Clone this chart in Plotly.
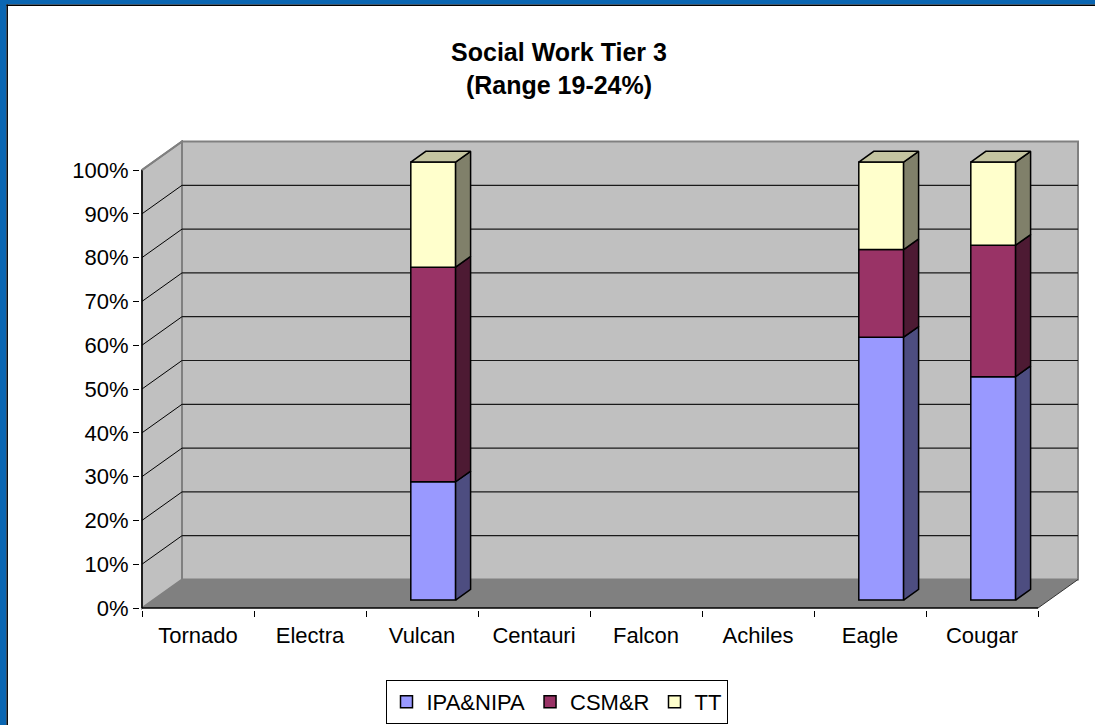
import plotly.graph_objects as go

# ---------------- data ----------------
categories = ["Tornado", "Electra", "Vulcan", "Centauri", "Falcon", "Achiles", "Eagle", "Cougar"]
ipa_nipa = [None, None, 27, None, None, None, 60, 51]
csm_r = [None, None, 49, None, None, None, 20, 30]
tt = [None, None, 24, None, None, None, 20, 19]
series_names = ["IPA&NIPA", "CSM&R", "TT"]
y_tick_values = [0, 10, 20, 30, 40, 50, 60, 70, 80, 90, 100]
y_tick_labels = [f"{v}%" for v in y_tick_values]
title_lines = ["Social Work Tier 3", "(Range 19-24%)"]

# ---------------- style ----------------
front_colors = ["#9999FF", "#993366", "#FFFFCC"]
side_colors = ["#4D4D80", "#4D1A33", "#80806A"]
top_colors = ["#C8C8FF", "#C0809F", "#C4C4A0"]
FONT = "Liberation Sans, Arial, sans-serif"

# depth projection (data units per full depth)
DX = 40 / 112
DY = 28.5 / 438
F1, F2 = 0.28, 0.655      # bar front / back depth fraction
BW = 0.4                  # bar width (category units)
bdx, bdy = DX * (F2 - F1), DY * (F2 - F1)

n = len(categories)
xr = [-0.5 - 2 / 112, -0.5 + 938 / 112]
yr = [-2 / 438, 468 / 438]

fig = go.Figure()

# ---- walls / floor / gridlines as shapes ----
shapes = []


def path(pts):
    return "M " + " L ".join(f"{x},{y}" for x, y in pts) + " Z"


xl, xrt = -0.5, n - 0.5
# back wall
shapes.append(dict(type="path", xref="x", yref="y", layer="below",
                   path=path([(xl + DX, DY), (xrt + DX, DY), (xrt + DX, 1 + DY), (xl + DX, 1 + DY)]),
                   fillcolor="#C0C0C0", line=dict(color="#808080", width=2)))
# left wall
shapes.append(dict(type="path", xref="x", yref="y", layer="below",
                   path=path([(xl, 0), (xl + DX, DY), (xl + DX, 1 + DY), (xl, 1)]),
                   fillcolor="#C0C0C0", line=dict(color="#808080", width=2)))
# floor
shapes.append(dict(type="path", xref="x", yref="y", layer="below",
                   path=path([(xl, 0), (xrt, 0), (xrt + DX, DY), (xl + DX, DY)]),
                   fillcolor="#808080", line=dict(width=0)))
# gridlines
for v in y_tick_values[1:-1]:
    yv = v / 100
    shapes.append(dict(type="line", xref="x", yref="y", layer="below",
                       x0=xl + DX, x1=xrt + DX, y0=yv + DY, y1=yv + DY,
                       line=dict(color="#1a1a1a", width=1.2)))
    shapes.append(dict(type="line", xref="x", yref="y", layer="below",
                       x0=xl, x1=xl + DX, y0=yv, y1=yv + DY,
                       line=dict(color="#000000", width=1)))
# front axis edges
shapes.append(dict(type="line", xref="x", yref="y", layer="below",
                   x0=xl, x1=xl, y0=0, y1=1, line=dict(color="#000000", width=1.5)))
shapes.append(dict(type="line", xref="x", yref="y", layer="below",
                   x0=xl, x1=xrt, y0=0, y1=0, line=dict(color="#000000", width=1.5)))
shapes.append(dict(type="line", xref="x", yref="y", layer="below",
                   x0=xrt, x1=xrt + DX, y0=0, y1=DY, line=dict(color="#333333", width=1)))
shapes.append(dict(type="line", xref="x", yref="y", layer="below",
                   x0=xl, x1=xl + DX, y0=1, y1=1 + DY, line=dict(color="#808080", width=2)))

# ---- frame (blue border, top & left) ----
PL, PW, PT, PH = 140, 940, 140, 470


def px(xp):
    return (xp - PL) / PW


def py(yp):
    return (PT + PH - yp) / PH


shapes.append(dict(type="rect", xref="paper", yref="paper", x0=px(0), x1=px(6.5), y0=py(725), y1=py(0),
                   fillcolor="#0A66B2", line=dict(width=0), layer="above"))
shapes.append(dict(type="rect", xref="paper", yref="paper", x0=px(0), x1=px(1095), y0=py(4.5), y1=py(0),
                   fillcolor="#0A66B2", line=dict(width=0), layer="above"))
shapes.append(dict(type="line", xref="paper", yref="paper", x0=px(7.2), x1=px(7.2), y0=py(725), y1=py(4.5),
                   line=dict(color="#000000", width=1.5), layer="above"))
shapes.append(dict(type="line", xref="paper", yref="paper", x0=px(6.5), x1=px(1095), y0=py(5.2), y1=py(5.2),
                   line=dict(color="#000000", width=1.5), layer="above"))

# ---- bars ----
all_series = [ipa_nipa, csm_r, tt]
cum = [0.0] * n
side_x = [[] for _ in all_series]
side_y = [[] for _ in all_series]
top_x = [[] for _ in all_series]
top_y = [[] for _ in all_series]
top_series = {}
for i in range(n):
    for s, vals in enumerate(all_series):
        if vals[i] is not None:
            top_series[i] = s

for s, vals in enumerate(all_series):
    bx, by, bb = [], [], []
    for i in range(n):
        v = vals[i]
        if v is None:
            continue
        y0 = cum[i]
        y1 = cum[i] + v / 100
        cum[i] = y1
        xc = i + DX * F1
        bx.append(xc)
        by.append(v / 100)
        bb.append(y0 + DY * F1)
        xL, xR = xc - BW / 2, xc + BW / 2
        yb, yt = y0 + DY * F1, y1 + DY * F1
        side_x[s] += [xR, xR + bdx, xR + bdx, xR, xR, None]
        side_y[s] += [yb, yb + bdy, yt + bdy, yt, yb, None]
        if top_series.get(i) == s:
            top_x[s] += [xL, xL + bdx, xR + bdx, xR, xL, None]
            top_y[s] += [yt, yt + bdy, yt + bdy, yt, yt, None]
    fig.add_trace(go.Bar(x=bx, y=by, base=bb, width=BW, name=series_names[s],
                         marker=dict(color=front_colors[s], line=dict(color="#000000", width=1.5)),
                         hoverinfo="skip"))

for s in range(len(all_series)):
    if side_x[s]:
        fig.add_trace(go.Scatter(x=side_x[s], y=side_y[s], mode="lines", fill="toself",
                                 fillcolor=side_colors[s], line=dict(color="#000000", width=1.5),
                                 showlegend=False, hoverinfo="skip"))
    if top_x[s]:
        fig.add_trace(go.Scatter(x=top_x[s], y=top_y[s], mode="lines", fill="toself",
                                 fillcolor=top_colors[s], line=dict(color="#000000", width=1.5),
                                 showlegend=False, hoverinfo="skip"))

fig.update_layout(
    width=1095, height=725,
    margin=dict(l=PL, r=1095 - PL - PW, t=PT, b=725 - PT - PH, pad=0, autoexpand=False),
    paper_bgcolor="#FFFFFF", plot_bgcolor="rgba(0,0,0,0)",
    barmode="overlay",
    shapes=shapes,
    font=dict(family=FONT, color="#000000", size=22),
    title=dict(text="<b>" + "<br>".join(title_lines) + "</b>",
               x=559 / 1095, xref="container", xanchor="center",
               y=1 - 61 / 725, yref="container", yanchor="top",
               font=dict(family=FONT, size=25, color="#000000")),
    legend=dict(orientation="h", x=px(556.5), xanchor="center", y=py(680), yanchor="top",
                bordercolor="#000000", borderwidth=1, bgcolor="#FFFFFF",
                font=dict(family=FONT, size=22), itemwidth=30, traceorder="normal"),
    showlegend=True,
)
fig.update_xaxes(range=xr, tickmode="array", tickvals=list(range(n)), ticktext=categories,
                 ticks="outside", ticklen=6, tickcolor="rgba(0,0,0,0)",
                 showgrid=False, zeroline=False, showline=False, automargin=False,
                 minor=dict(tickmode="array", tickvals=[i - 0.5 for i in range(n + 1)],
                            ticks="outside", ticklen=6, tickcolor="#000000", tickwidth=1, showgrid=False),
                 tickfont=dict(size=22), fixedrange=True)
fig.update_yaxes(range=yr, tickmode="array", tickvals=[v / 100 for v in y_tick_values], ticktext=y_tick_labels,
                 ticks="outside", ticklen=6, tickcolor="#000000", tickwidth=1,
                 showgrid=False, zeroline=False, showline=False, automargin=False,
                 tickfont=dict(size=22), fixedrange=True)

fig.write_html("out.html", config={"displayModeBar": False},
               post_script="document.body.style.margin='0';document.body.style.overflow='hidden';")
